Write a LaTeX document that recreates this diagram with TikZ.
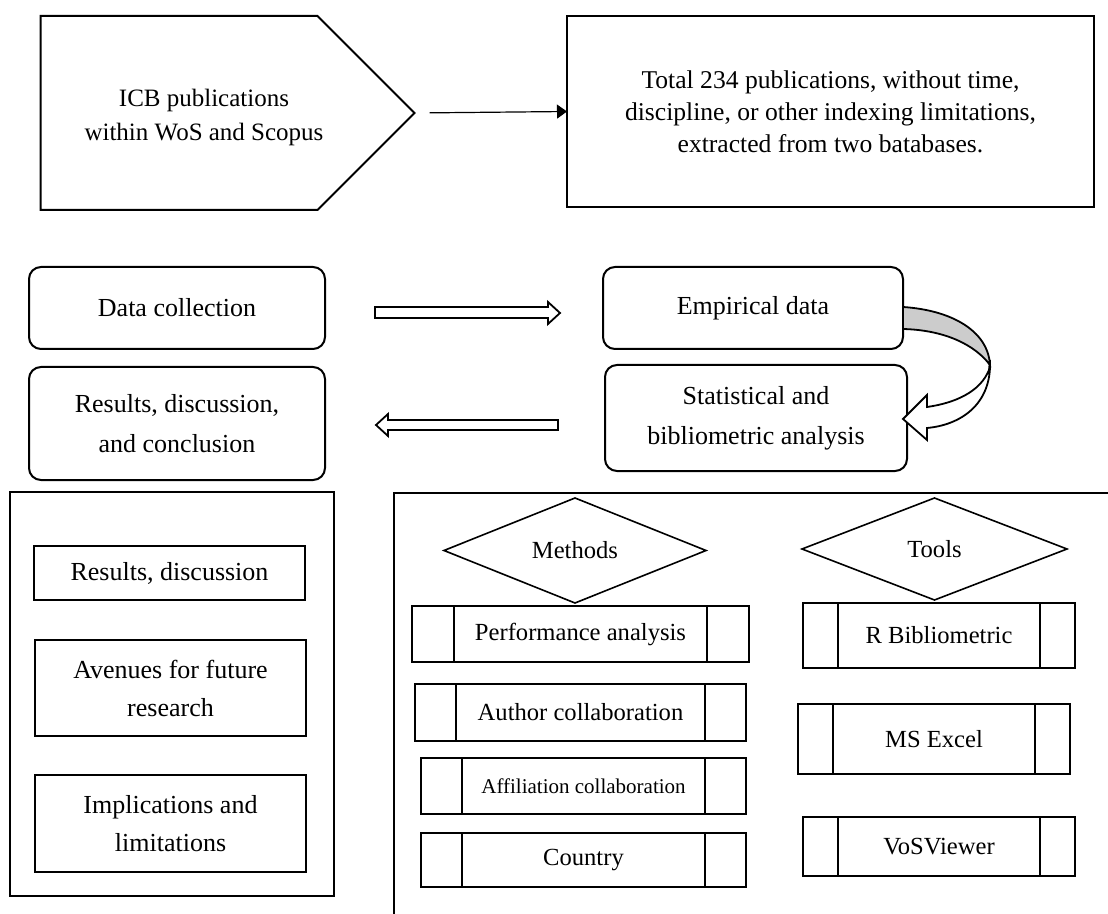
\documentclass[tikz,border=0pt]{standalone}
\usepackage{fontspec}
\setmainfont{Liberation Serif}
\usetikzlibrary{shapes.geometric,shapes.symbols,arrows.meta,calc,positioning}

\begin{document}
\begin{tikzpicture}[
      x=0.5pt, y=-0.5pt,
      every node/.style={inner sep=0pt, outer sep=0pt, align=center},
      sz/.style 2 args={minimum width=#1*0.5pt, minimum height=#2*0.5pt},
      txt/.style={font=\fontsize{12.3}{16}\selectfont},
      plainbox/.style={rectangle, draw, line width=1pt, txt},
      roundbox/.style={rectangle, rounded corners=6pt, draw, line width=1pt,
         font=\fontsize{13}{20}\selectfont},
      decision/.style={diamond, draw, line width=0.8pt, txt},
      procbox/.style={rectangle, draw, line width=1pt, txt,
         path picture={
            \draw[line width=1pt] ([xshift=#1*0.5pt]path picture bounding box.north west)
               -- ([xshift=#1*0.5pt]path picture bounding box.south west);
            \draw[line width=1pt] ([xshift=-#1*0.5pt]path picture bounding box.north east)
               -- ([xshift=-#1*0.5pt]path picture bounding box.south east);
         }},
      blockarrow/.style={draw, line width=0.9pt, fill=white, line join=miter},
      >={Triangle[length=5pt,width=7pt]}
    ]
    \useasboundingbox (0,0) rectangle (1108,914);

    % top row
    \node[signal, signal to=east, signal pointer angle=90, draw, line width=1pt,
          sz={374}{194}] (icb) at (179,113) {};
    \node[font=\fontsize{12.5}{17}\selectfont] (icbtext) at (204,117)
          {ICB publications\\within WoS and Scopus};
    \node[plainbox, sz={527}{191}, font=\fontsize{12.8}{16}\selectfont] (total) at (830.5,111.5)
          {Total 234 publications, without time,\\discipline, or other indexing limitations,\\extracted from two batabases.};
    \draw[->, line width=0.6pt, shorten <=7.5pt] (icb.east) -- (total.west);

    % process row
    \node[roundbox, sz={296}{82}] (data) at (177,308) {Data collection};
    \node[roundbox, sz={300}{82}] (emp) at (753,308) {Empirical data};
    \node[roundbox, sz={296}{113}] (res) at (177,423.5) {Results, discussion,\\and conclusion};
    \node[roundbox, sz={302}{106}] (stat) at (756,418) {Statistical and\\bibliometric analysis};

    \draw[blockarrow] ($(data.east)+(50,-1)$) -- ++(173,0) -- ++(0,-5) -- ++(12,11)
       -- ++(-12,11) -- ++(0,-6) -- ++(-173,0) -- cycle;
    \draw[blockarrow] ($(res.east)+(51,1.5)$) -- ++(12,-11) -- ++(0,6) -- ++(170,0)
       -- ++(0,10) -- ++(-170,0) -- ++(0,6) -- cycle;
    \begin{scope}[shift={(emp.east)}]
      \draw[blockarrow, fill=black!20] (0,-1) .. controls (47,2) and (85,22) .. (87,57)
         .. controls (72,37) and (42,22) .. (0,21) -- cycle;
      \draw[blockarrow] (87,52) .. controls (89,97) and (57,117) .. (24,120) -- (24,132)
         -- (0,111) -- (24,87) -- (24,99) .. controls (52,95) and (77,84) .. (86,62) -- cycle;
    \end{scope}

    % outcomes
    \node[plainbox, sz={324}{404}] (outcomes) at (172,694) {};
    \node[plainbox, sz={271}{54}, font=\fontsize{13}{19}\selectfont] (resdisc) at (169.5,573) {Results, discussion};
    \node[plainbox, sz={271}{96}, font=\fontsize{13}{19}\selectfont] (avenues) at (170.5,688) {Avenues for future\\research};
    \node[plainbox, sz={271}{97}, font=\fontsize{13}{19}\selectfont] (impl) at (170.5,823.5) {Implications and\\limitations};

    % methods and tools
    \draw[line width=1pt] (394,914) -- (394,493) -- (1108,493);
    \node[decision, sz={262}{105}] (methods) at (575,550.5) {Methods};
    \node[decision, sz={265}{102}] (tools) at (934.5,549) {Tools};
    \node[procbox=42, sz={337}{56}] (perf) at (580.5,634) {Performance analysis};
    \node[procbox=41, sz={331}{57}] (author) at (580.5,712.5) {Author collaboration};
    \node[procbox=41, sz={325}{56}, font=\fontsize{10.5}{12}\selectfont] (affil) at (583.5,786) {Affiliation collaboration};
    \node[procbox=41, sz={325}{54}] (country) at (583.5,860) {Country};
    \node[procbox=35, sz={272}{65}] (rbib) at (939,635.5) {R Bibliometric};
    \node[procbox=35, sz={272}{70}] (excel) at (934,739) {MS Excel};
    \node[procbox=35, sz={272}{59}] (vos) at (939,846.5) {VoSViewer};
\end{tikzpicture}
\end{document}
